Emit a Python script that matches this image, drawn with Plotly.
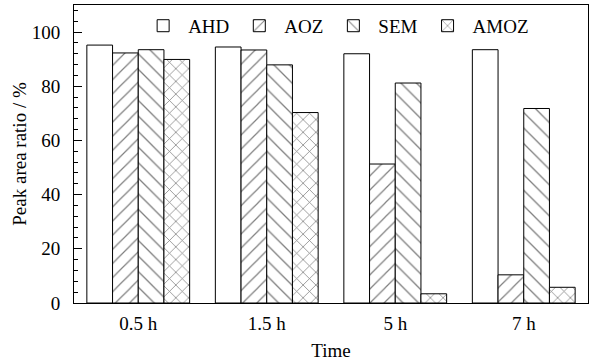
import plotly.graph_objects as go

categories = ["0.5 h", "1.5 h", "5 h", "7 h"]
ahd = [95.2, 94.5, 92.0, 93.5]
aoz = [92.3, 93.4, 51.3, 10.4]
sem = [93.5, 87.9, 81.2, 71.8]
amoz = [89.9, 70.3, 3.4, 5.8]

series_names = ["AHD", "AOZ", "SEM", "AMOZ"]
series_values = [ahd, aoz, sem, amoz]
patterns = ["", "/", "\\", "x"]
pattern_sizes = [10, 10, 11, 9]
pattern_solidity = [0.1, 0.12, 0.12, 0.16]

FONT = "Liberation Serif"

fig = go.Figure()
for name, vals, pat, psz, sol in zip(series_names, series_values, patterns,
                                     pattern_sizes, pattern_solidity):
    fig.add_trace(go.Bar(
        x=categories, y=vals, name=name,
        marker=dict(
            color="white",
            line=dict(color="black", width=1),
            pattern=dict(shape=pat, fgcolor="black", bgcolor="white",
                         size=psz, solidity=sol, fillmode="overlay"),
        ),
    ))

fig.update_layout(
    width=598, height=363,
    margin=dict(l=74, r=10, t=5, b=60, autoexpand=False),
    paper_bgcolor="white", plot_bgcolor="white",
    font=dict(family=FONT, size=18, color="black"),
    barmode="group", bargap=0.2, bargroupgap=0,
    showlegend=True,
    legend=dict(orientation="h", x=0.51, xanchor="center", y=0.93, yanchor="middle",
                font=dict(family=FONT, size=19), bgcolor="rgba(0,0,0,0)",
                itemwidth=40, traceorder="normal"),
)
fig.update_xaxes(
    automargin=False,
    showline=True, linecolor="black", linewidth=1, mirror=True,
    ticks="", showgrid=False,
    tickfont=dict(family=FONT, size=19),
    ticklabelstandoff=3,
    title=dict(text="Time", font=dict(family=FONT, size=19), standoff=10),
)
fig.update_yaxes(
    automargin=False,
    range=[0, 110], dtick=20, tick0=0,
    showline=True, linecolor="black", linewidth=1, mirror=True,
    ticks="inside", ticklen=8, tickcolor="black", tickwidth=1,
    minor=dict(ticks="inside", ticklen=4, dtick=4, tickcolor="black", tickwidth=1, showgrid=False),
    showgrid=False, zeroline=False,
    tickfont=dict(family=FONT, size=19),
    ticklabelstandoff=9,
    title=dict(text="Peak area ratio / %", font=dict(family=FONT, size=19), standoff=0),
)

fig.write_html("out.html", config={"displayModeBar": False},
               post_script="document.body.style.margin='0';")
